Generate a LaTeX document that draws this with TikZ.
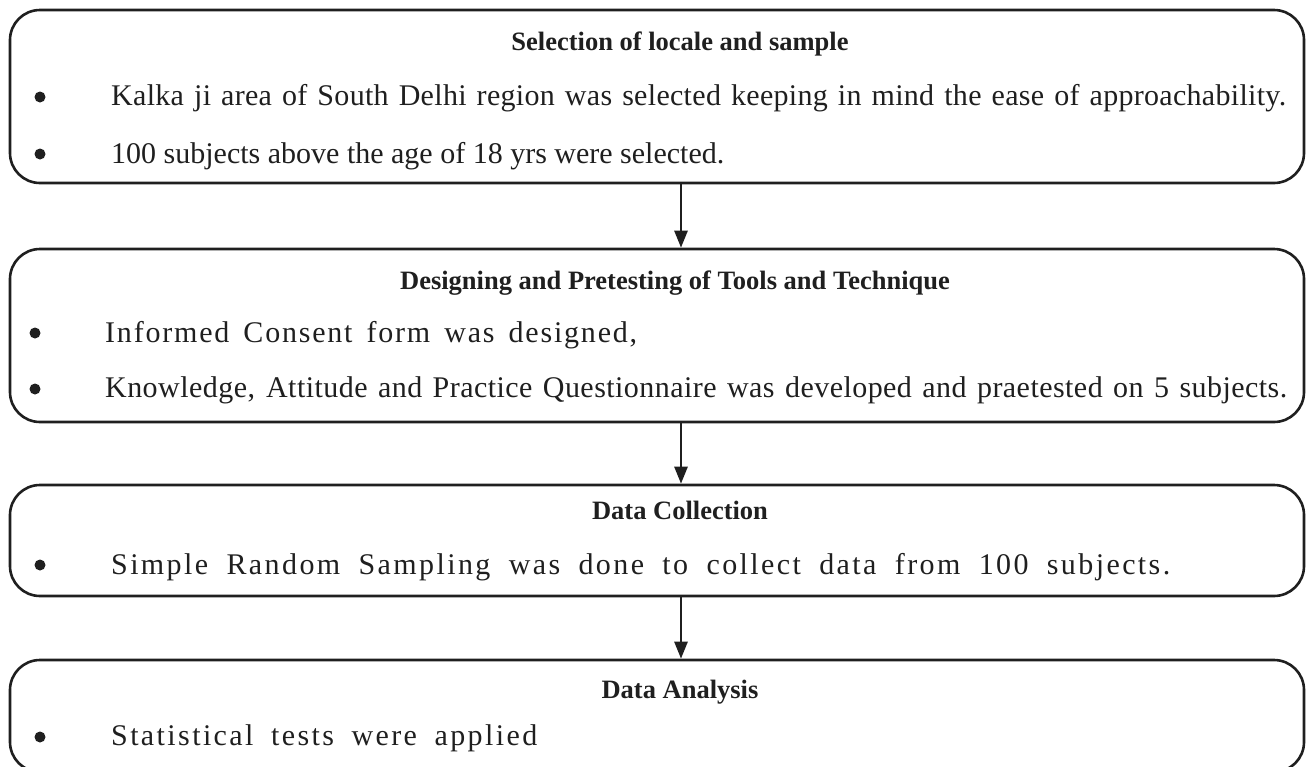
\documentclass[tikz,border=0pt]{standalone}
\usepackage{fontspec}
\setmainfont{Liberation Serif}
\usetikzlibrary{arrows.meta}
\newcommand{\fitw}[3]{\makebox[#2][s]{\addfontfeature{LetterSpace=#1}#3}}
\begin{document}
\begin{tikzpicture}[x=1pt,y=-1pt,
  box/.style={draw=black!88, line width=2.6pt, rounded corners=30pt, minimum width=1294pt, inner sep=0pt},
  txt/.style={inner sep=0pt, font=\fontsize{30}{36}\selectfont, text=black!88, anchor=base west},
  ttl/.style={inner sep=0pt, font=\fontsize{26.5}{32}\selectfont\bfseries, text=black!88, anchor=base},
  dot/.style={circle, fill=black!88, inner sep=0pt, minimum size=11pt},
  arr/.style={draw=black!88, line width=2.6pt, -{Triangle[width=13pt,length=17pt]}}]
\useasboundingbox (0,0) rectangle (1307,766);
\clip (0,0) rectangle (1307,766);
% boxes
\node[box, minimum height=173pt] (b1) at (657,96.5) {};
\node[box, minimum height=173pt] (b2) at (657,335.5) {};
\node[box, minimum height=111pt] (b3) at (657,540.5) {};
\node[box, minimum height=112pt] (b4) at (657,716) {};
% box 1
\node[ttl] (h1) at (680,50) {Selection of locale and sample};
\node[dot] (d11) at (40,97) {};
\node[txt] (t11) at (111,105) {\fitw{1}{1175pt}{Kalka ji area of South Delhi region was selected keeping in mind the ease of approachability.}};
\node[dot] (d12) at (40,154) {};
\node[txt] (t12) at (111,163) {100 subjects above the age of 18 yrs were selected.};
% box 2
\node[ttl] (h2) at (675,289) {Designing and Pretesting of Tools and Technique};
\node[dot] (d21) at (35,333) {};
\node[txt] (t21) at (105,342) {\fitw{6}{532pt}{Informed Consent form was designed,}};
\node[dot] (d22) at (35,389) {};
\node[txt] (t22) at (105,397) {\fitw{1.5}{1182pt}{Knowledge, Attitude and Practice Questionnaire was developed and praetested on 5 subjects.}};
% box 3
\node[ttl] (h3) at (680,519) {Data Collection};
\node[dot] (d31) at (40,565) {};
\node[txt] (t31) at (111,574) {\fitw{8}{1059pt}{Simple Random Sampling was done to collect data from 100 subjects.}};
% box 4
\node[ttl] (h4) at (680,698) {Data Analysis};
\node[dot] (d41) at (40,737) {};
\node[txt] (t41) at (111,745) {\fitw{8}{426pt}{Statistical tests were applied}};
% arrows
\coordinate (ax) at (681,0);
\draw[arr] (b1.south -| ax) -- (b2.north -| ax);
\draw[arr] (b2.south -| ax) -- (b3.north -| ax);
\draw[arr] (b3.south -| ax) -- (b4.north -| ax);
\end{tikzpicture}
\end{document}
